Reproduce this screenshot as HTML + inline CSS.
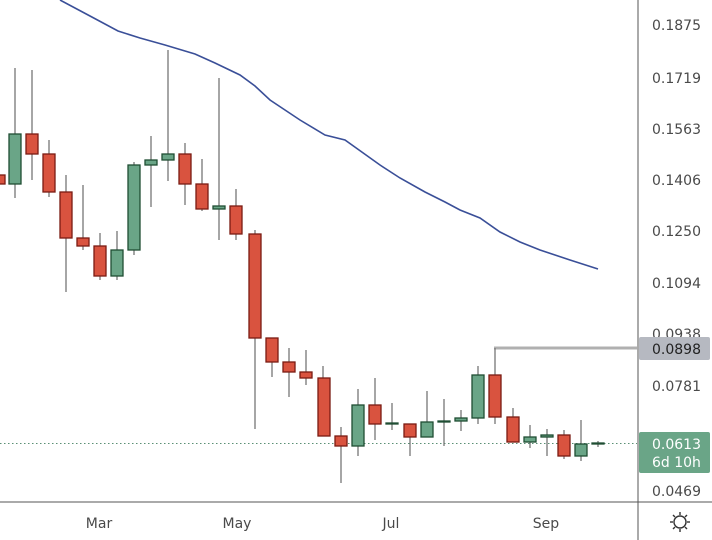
<!DOCTYPE html>
<html><head><meta charset="utf-8"><style>
html,body{margin:0;padding:0;background:#fff;}
svg{display:block;font-family:"DejaVu Sans","Liberation Sans",sans-serif;}
</style></head><body>
<svg width="712" height="540" viewBox="0 0 712 540" xmlns="http://www.w3.org/2000/svg">
<rect width="712" height="540" fill="#fff"/>
<!-- MA line -->
<polyline fill="none" stroke="#3a4f98" stroke-width="1.6" points="60,0 90,16 118,31 140,38 165,45 195,54 215,63 240,75 255,86 270,100 300,120 325,135 345,140 380,165 400,178 425,192 445,202 460,210 480,218 500,232 520,242 540,250 570,260 598,269"/>
<!-- dotted last price line -->
<line x1="0" y1="443.5" x2="637" y2="443.5" stroke="#5a8f74" stroke-width="1" stroke-dasharray="1.5,2.5"/>
<!-- high line -->
<line x1="494" y1="348" x2="637" y2="348" stroke="#b0b0b0" stroke-width="3"/>
<g stroke="#777" stroke-width="1.3">
<line x1="15" y1="68" x2="15" y2="198"/><line x1="32" y1="70" x2="32" y2="180"/><line x1="49" y1="140" x2="49" y2="197"/>
<line x1="66" y1="175" x2="66" y2="292"/><line x1="83" y1="185" x2="83" y2="250"/><line x1="100" y1="233" x2="100" y2="280"/>
<line x1="117" y1="231" x2="117" y2="280"/><line x1="134" y1="162" x2="134" y2="255"/><line x1="151" y1="136" x2="151" y2="207"/>
<line x1="168" y1="50" x2="168" y2="181"/><line x1="185" y1="143" x2="185" y2="205"/><line x1="202" y1="159" x2="202" y2="211"/>
<line x1="219" y1="78" x2="219" y2="240"/><line x1="236" y1="189" x2="236" y2="240"/><line x1="255" y1="230" x2="255" y2="429"/>
<line x1="272" y1="338" x2="272" y2="377"/><line x1="289" y1="348" x2="289" y2="397"/><line x1="306" y1="350" x2="306" y2="385"/>
<line x1="323" y1="366" x2="323" y2="436"/><line x1="341" y1="427" x2="341" y2="483"/><line x1="358" y1="389" x2="358" y2="456"/>
<line x1="375" y1="378" x2="375" y2="440"/><line x1="392" y1="403" x2="392" y2="430"/><line x1="410" y1="424" x2="410" y2="456"/>
<line x1="427" y1="391" x2="427" y2="437"/><line x1="444" y1="399" x2="444" y2="446"/><line x1="461" y1="410" x2="461" y2="431"/>
<line x1="478" y1="366" x2="478" y2="424"/><line x1="495" y1="348" x2="495" y2="424"/><line x1="513" y1="408" x2="513" y2="442"/>
<line x1="530" y1="425" x2="530" y2="448"/><line x1="547" y1="429" x2="547" y2="456"/><line x1="564" y1="430" x2="564" y2="459"/>
<line x1="581" y1="420" x2="581" y2="461"/><line x1="598" y1="441" x2="598" y2="447"/>
</g>
<g fill="#d9533f" stroke="#7a1b12" stroke-width="1.3">
<rect x="-6" y="175" width="11" height="9"/>
<rect x="26" y="134" width="12" height="20"/><rect x="43" y="154" width="12" height="38"/><rect x="60" y="192" width="12" height="46"/>
<rect x="77" y="238" width="12" height="8"/><rect x="94" y="246" width="12" height="30"/><rect x="179" y="154" width="12" height="30"/>
<rect x="196" y="184" width="12" height="25"/><rect x="230" y="206" width="12" height="28"/><rect x="249" y="234" width="12" height="104"/>
<rect x="266" y="338" width="12" height="24"/><rect x="283" y="362" width="12" height="10"/><rect x="300" y="372" width="12" height="6"/>
<rect x="318" y="378" width="12" height="58"/><rect x="335" y="436" width="12" height="10"/><rect x="369" y="405" width="12" height="19"/>
<rect x="404" y="424" width="12" height="13"/><rect x="489" y="375" width="12" height="42"/><rect x="507" y="417" width="12" height="25"/>
<rect x="558" y="435" width="12" height="21"/>
</g>
<g fill="#6aa587" stroke="#1f4d33" stroke-width="1.3">
<rect x="9" y="134" width="12" height="50"/><rect x="111" y="250" width="12" height="26"/><rect x="128" y="165" width="12" height="85"/>
<rect x="145" y="160" width="12" height="5"/><rect x="162" y="154" width="12" height="6"/><rect x="213" y="206" width="12" height="3"/>
<rect x="352" y="405" width="12" height="41"/><rect x="386" y="423" width="12" height="1"/><rect x="421" y="422" width="12" height="15"/>
<rect x="438" y="421" width="12" height="1"/><rect x="455" y="418" width="12" height="3"/><rect x="472" y="375" width="12" height="43"/>
<rect x="524" y="437" width="12" height="5"/><rect x="541" y="435" width="12" height="2"/><rect x="575" y="444" width="12" height="12"/>
<rect x="592" y="443" width="12" height="1"/>
</g>
<!-- axes -->
<line x1="638" y1="0" x2="638" y2="540" stroke="#555" stroke-width="1"/>
<line x1="0" y1="502" x2="712" y2="502" stroke="#555" stroke-width="1"/>
<g fill="#4a4a4a" font-size="14">
<text x="652" y="30">0.1875</text><text x="652" y="83">0.1719</text><text x="652" y="134">0.1563</text>
<text x="652" y="185">0.1406</text><text x="652" y="236">0.1250</text><text x="652" y="288">0.1094</text>
<text x="652" y="339">0.0938</text><text x="652" y="391">0.0781</text><text x="652" y="496">0.0469</text>
<text x="99" y="528" text-anchor="middle">Mar</text><text x="237" y="528" text-anchor="middle">May</text>
<text x="391" y="528" text-anchor="middle">Jul</text><text x="546" y="528" text-anchor="middle">Sep</text>
</g>
<rect x="639" y="337" width="71" height="23" rx="2" fill="#b6b9c1"/>
<text x="652" y="354" font-size="14" fill="#222">0.0898</text>
<rect x="639" y="432" width="71" height="41" rx="2" fill="#6aa587"/>
<text x="652" y="449" font-size="14" fill="#fff">0.0613</text>
<text x="652" y="467" font-size="14" fill="#fff">6d 10h</text>
<!-- gear -->
<g stroke="#333" stroke-width="1.4" fill="none">
<circle cx="680" cy="522" r="6"/>
<line x1="680" y1="512" x2="680" y2="515"/><line x1="680" y1="529" x2="680" y2="532"/>
<line x1="670" y1="522" x2="673" y2="522"/><line x1="687" y1="522" x2="690" y2="522"/>
<line x1="673" y1="515" x2="675" y2="517"/><line x1="685" y1="527" x2="687" y2="529"/>
<line x1="687" y1="515" x2="685" y2="517"/><line x1="675" y1="527" x2="673" y2="529"/>
</g>
</svg>
</body></html>
